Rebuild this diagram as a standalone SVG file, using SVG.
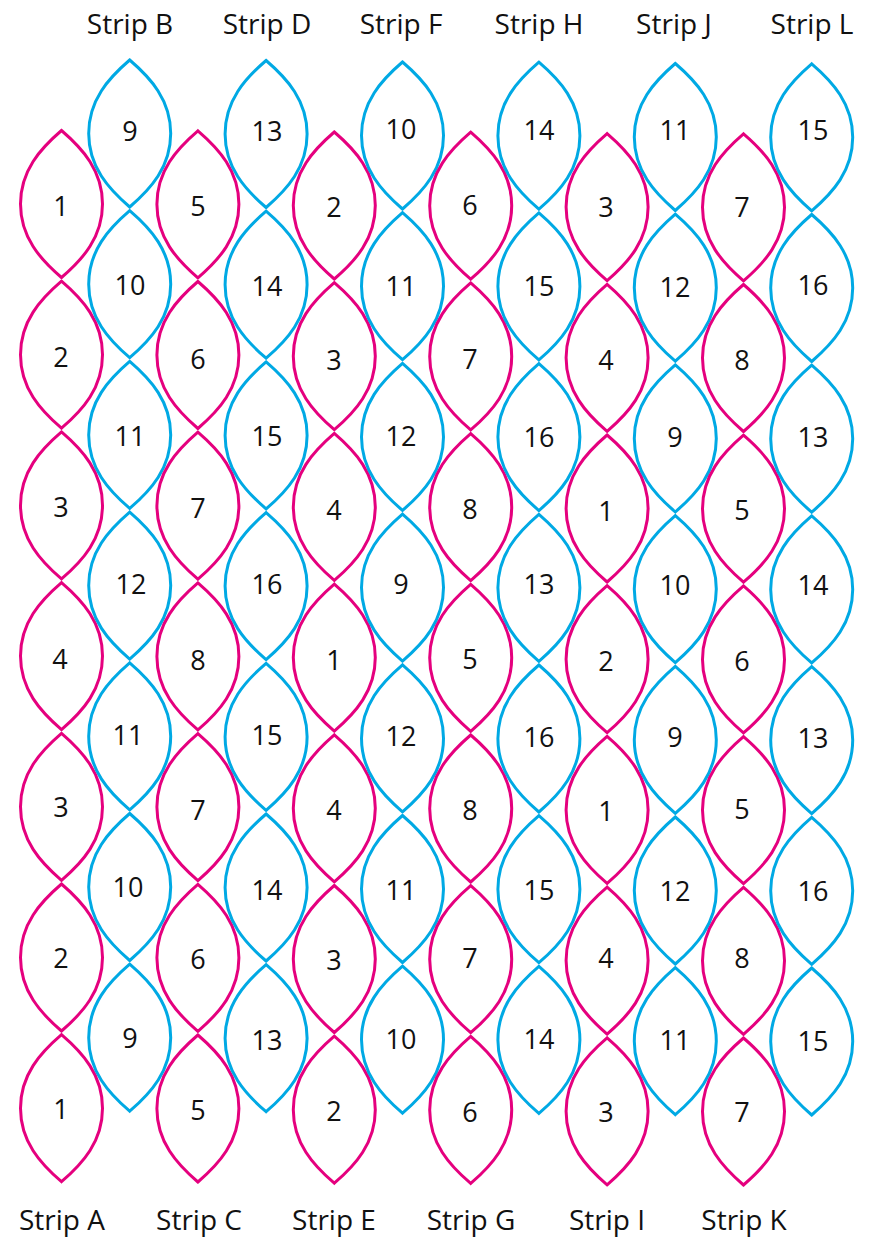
<svg xmlns="http://www.w3.org/2000/svg" xmlns:xlink="http://www.w3.org/1999/xlink" width="872" height="1240" viewBox="0 0 872 1240">
<style>
.pink{fill:none;stroke:#E5007E;stroke-width:3;stroke-linejoin:miter}
.blue{fill:none;stroke:#00A9E4;stroke-width:3;stroke-linejoin:miter}
.num{font-family:"Open Sans","Liberation Sans",sans-serif;font-size:27px;fill:#111;text-anchor:middle}
.lbl{font-family:"Open Sans","Liberation Sans",sans-serif;font-size:28px;fill:#111;text-anchor:middle}
</style>
<defs>
<path id="lens" d="M0,0 C21,18 41,40 41,73.5 C41,107 21,129 0,147 C-21,129 -41,107 -41,73.5 C-41,40 -21,18 0,0Z"/>
</defs>
<rect width="872" height="1240" fill="#fff"/>
<g id="labels">
<text class="lbl" x="130" y="34">Strip B</text>
<text class="lbl" x="267" y="34">Strip D</text>
<text class="lbl" x="401" y="34">Strip F</text>
<text class="lbl" x="539" y="34">Strip H</text>
<text class="lbl" x="674" y="34">Strip J</text>
<text class="lbl" x="812" y="34">Strip L</text>
<text class="lbl" x="62" y="1230">Strip A</text>
<text class="lbl" x="199" y="1230">Strip C</text>
<text class="lbl" x="334" y="1230">Strip E</text>
<text class="lbl" x="471" y="1230">Strip G</text>
<text class="lbl" x="607" y="1230">Strip I</text>
<text class="lbl" x="744" y="1230">Strip K</text>
</g>
<g id="stripA">
<g id="A1"><use href="#lens" x="61.5" y="130.5" class="pink"/><text class="num" x="61" y="216">1</text></g>
<g id="A2"><use href="#lens" x="61.5" y="281.2" class="pink"/><text class="num" x="61" y="367">2</text></g>
<g id="A3"><use href="#lens" x="61.5" y="431.9" class="pink"/><text class="num" x="61" y="517">3</text></g>
<g id="A4"><use href="#lens" x="61.5" y="582.6" class="pink"/><text class="num" x="60" y="669">4</text></g>
<g id="A5"><use href="#lens" x="61.5" y="733.3" class="pink"/><text class="num" x="61" y="817">3</text></g>
<g id="A6"><use href="#lens" x="61.5" y="884" class="pink"/><text class="num" x="61" y="968">2</text></g>
<g id="A7"><use href="#lens" x="61.5" y="1034.7" class="pink"/><text class="num" x="61" y="1119">1</text></g>
</g>
<g id="stripB">
<g id="B1"><use href="#lens" x="129.7" y="60" class="blue"/><text class="num" x="130" y="141">9</text></g>
<g id="B2"><use href="#lens" x="129.7" y="210.7" class="blue"/><text class="num" x="130" y="295">10</text></g>
<g id="B3"><use href="#lens" x="129.7" y="361.4" class="blue"/><text class="num" x="130" y="446">11</text></g>
<g id="B4"><use href="#lens" x="129.7" y="512.1" class="blue"/><text class="num" x="131" y="594">12</text></g>
<g id="B5"><use href="#lens" x="129.7" y="662.8" class="blue"/><text class="num" x="128" y="745">11</text></g>
<g id="B6"><use href="#lens" x="129.7" y="813.5" class="blue"/><text class="num" x="128" y="897">10</text></g>
<g id="B7"><use href="#lens" x="129.7" y="964.2" class="blue"/><text class="num" x="130" y="1048">9</text></g>
</g>
<g id="stripC">
<g id="C1"><use href="#lens" x="197.9" y="130.8" class="pink"/><text class="num" x="198" y="216">5</text></g>
<g id="C2"><use href="#lens" x="197.9" y="281.5" class="pink"/><text class="num" x="198" y="369">6</text></g>
<g id="C3"><use href="#lens" x="197.9" y="432.2" class="pink"/><text class="num" x="198" y="518">7</text></g>
<g id="C4"><use href="#lens" x="197.9" y="582.9" class="pink"/><text class="num" x="198" y="670">8</text></g>
<g id="C5"><use href="#lens" x="197.9" y="733.6" class="pink"/><text class="num" x="198" y="820">7</text></g>
<g id="C6"><use href="#lens" x="197.9" y="884.3" class="pink"/><text class="num" x="198" y="969">6</text></g>
<g id="C7"><use href="#lens" x="197.9" y="1035" class="pink"/><text class="num" x="198" y="1120">5</text></g>
</g>
<g id="stripD">
<g id="D1"><use href="#lens" x="266.1" y="60.5" class="blue"/><text class="num" x="267" y="141">13</text></g>
<g id="D2"><use href="#lens" x="266.1" y="211.2" class="blue"/><text class="num" x="267" y="296">14</text></g>
<g id="D3"><use href="#lens" x="266.1" y="361.9" class="blue"/><text class="num" x="267" y="446">15</text></g>
<g id="D4"><use href="#lens" x="266.1" y="512.6" class="blue"/><text class="num" x="267" y="594">16</text></g>
<g id="D5"><use href="#lens" x="266.1" y="663.3" class="blue"/><text class="num" x="267" y="745">15</text></g>
<g id="D6"><use href="#lens" x="266.1" y="814" class="blue"/><text class="num" x="267" y="900">14</text></g>
<g id="D7"><use href="#lens" x="266.1" y="964.7" class="blue"/><text class="num" x="267" y="1050">13</text></g>
</g>
<g id="stripE">
<g id="E1"><use href="#lens" x="334.3" y="132" class="pink"/><text class="num" x="334" y="217">2</text></g>
<g id="E2"><use href="#lens" x="334.3" y="282.7" class="pink"/><text class="num" x="334" y="370">3</text></g>
<g id="E3"><use href="#lens" x="334.3" y="433.4" class="pink"/><text class="num" x="334" y="520">4</text></g>
<g id="E4"><use href="#lens" x="334.3" y="584.1" class="pink"/><text class="num" x="334" y="670">1</text></g>
<g id="E5"><use href="#lens" x="334.3" y="734.8" class="pink"/><text class="num" x="334" y="820">4</text></g>
<g id="E6"><use href="#lens" x="334.3" y="885.5" class="pink"/><text class="num" x="334" y="970">3</text></g>
<g id="E7"><use href="#lens" x="334.3" y="1036.2" class="pink"/><text class="num" x="334" y="1121">2</text></g>
</g>
<g id="stripF">
<g id="F1"><use href="#lens" x="402.5" y="62" class="blue"/><text class="num" x="401" y="139">10</text></g>
<g id="F2"><use href="#lens" x="402.5" y="212.7" class="blue"/><text class="num" x="401" y="296">11</text></g>
<g id="F3"><use href="#lens" x="402.5" y="363.4" class="blue"/><text class="num" x="401" y="446">12</text></g>
<g id="F4"><use href="#lens" x="402.5" y="514.1" class="blue"/><text class="num" x="401" y="594">9</text></g>
<g id="F5"><use href="#lens" x="402.5" y="664.8" class="blue"/><text class="num" x="401" y="746">12</text></g>
<g id="F6"><use href="#lens" x="402.5" y="815.5" class="blue"/><text class="num" x="401" y="900">11</text></g>
<g id="F7"><use href="#lens" x="402.5" y="966.2" class="blue"/><text class="num" x="401" y="1049">10</text></g>
</g>
<g id="stripG">
<g id="G1"><use href="#lens" x="470.7" y="132.2" class="pink"/><text class="num" x="470" y="215">6</text></g>
<g id="G2"><use href="#lens" x="470.7" y="282.9" class="pink"/><text class="num" x="470" y="369">7</text></g>
<g id="G3"><use href="#lens" x="470.7" y="433.6" class="pink"/><text class="num" x="470" y="519">8</text></g>
<g id="G4"><use href="#lens" x="470.7" y="584.3" class="pink"/><text class="num" x="470" y="669">5</text></g>
<g id="G5"><use href="#lens" x="470.7" y="735" class="pink"/><text class="num" x="470" y="820">8</text></g>
<g id="G6"><use href="#lens" x="470.7" y="885.7" class="pink"/><text class="num" x="470" y="968">7</text></g>
<g id="G7"><use href="#lens" x="470.7" y="1036.4" class="pink"/><text class="num" x="470" y="1122">6</text></g>
</g>
<g id="stripH">
<g id="H1"><use href="#lens" x="538.9" y="62.2" class="blue"/><text class="num" x="539" y="140">14</text></g>
<g id="H2"><use href="#lens" x="538.9" y="212.9" class="blue"/><text class="num" x="539" y="296">15</text></g>
<g id="H3"><use href="#lens" x="538.9" y="363.6" class="blue"/><text class="num" x="539" y="447">16</text></g>
<g id="H4"><use href="#lens" x="538.9" y="514.3" class="blue"/><text class="num" x="539" y="594">13</text></g>
<g id="H5"><use href="#lens" x="538.9" y="665" class="blue"/><text class="num" x="539" y="747">16</text></g>
<g id="H6"><use href="#lens" x="538.9" y="815.7" class="blue"/><text class="num" x="539" y="900">15</text></g>
<g id="H7"><use href="#lens" x="538.9" y="966.4" class="blue"/><text class="num" x="539" y="1049">14</text></g>
</g>
<g id="stripI">
<g id="I1"><use href="#lens" x="607.1" y="133.6" class="pink"/><text class="num" x="606" y="217">3</text></g>
<g id="I2"><use href="#lens" x="607.1" y="284.3" class="pink"/><text class="num" x="606" y="370">4</text></g>
<g id="I3"><use href="#lens" x="607.1" y="435" class="pink"/><text class="num" x="606" y="521">1</text></g>
<g id="I4"><use href="#lens" x="607.1" y="585.7" class="pink"/><text class="num" x="606" y="671">2</text></g>
<g id="I5"><use href="#lens" x="607.1" y="736.4" class="pink"/><text class="num" x="606" y="821">1</text></g>
<g id="I6"><use href="#lens" x="607.1" y="887.1" class="pink"/><text class="num" x="606" y="968">4</text></g>
<g id="I7"><use href="#lens" x="607.1" y="1037.8" class="pink"/><text class="num" x="606" y="1122">3</text></g>
</g>
<g id="stripJ">
<g id="J1"><use href="#lens" x="675.3" y="63.5" class="blue"/><text class="num" x="675" y="140">11</text></g>
<g id="J2"><use href="#lens" x="675.3" y="214.2" class="blue"/><text class="num" x="675" y="297">12</text></g>
<g id="J3"><use href="#lens" x="675.3" y="364.9" class="blue"/><text class="num" x="675" y="447">9</text></g>
<g id="J4"><use href="#lens" x="675.3" y="515.6" class="blue"/><text class="num" x="675" y="595">10</text></g>
<g id="J5"><use href="#lens" x="675.3" y="666.3" class="blue"/><text class="num" x="675" y="747">9</text></g>
<g id="J6"><use href="#lens" x="675.3" y="817" class="blue"/><text class="num" x="675" y="901">12</text></g>
<g id="J7"><use href="#lens" x="675.3" y="967.7" class="blue"/><text class="num" x="675" y="1050">11</text></g>
</g>
<g id="stripK">
<g id="K1"><use href="#lens" x="743.5" y="133.8" class="pink"/><text class="num" x="742" y="217">7</text></g>
<g id="K2"><use href="#lens" x="743.5" y="284.5" class="pink"/><text class="num" x="742" y="370">8</text></g>
<g id="K3"><use href="#lens" x="743.5" y="435.2" class="pink"/><text class="num" x="742" y="520">5</text></g>
<g id="K4"><use href="#lens" x="743.5" y="585.9" class="pink"/><text class="num" x="742" y="671">6</text></g>
<g id="K5"><use href="#lens" x="743.5" y="736.6" class="pink"/><text class="num" x="742" y="819">5</text></g>
<g id="K6"><use href="#lens" x="743.5" y="887.3" class="pink"/><text class="num" x="742" y="968">8</text></g>
<g id="K7"><use href="#lens" x="743.5" y="1038" class="pink"/><text class="num" x="742" y="1122">7</text></g>
</g>
<g id="stripL">
<g id="L1"><use href="#lens" x="811.7" y="63.8" class="blue"/><text class="num" x="813" y="140">15</text></g>
<g id="L2"><use href="#lens" x="811.7" y="214.5" class="blue"/><text class="num" x="813" y="295">16</text></g>
<g id="L3"><use href="#lens" x="811.7" y="365.2" class="blue"/><text class="num" x="813" y="447">13</text></g>
<g id="L4"><use href="#lens" x="811.7" y="515.9" class="blue"/><text class="num" x="813" y="595">14</text></g>
<g id="L5"><use href="#lens" x="811.7" y="666.6" class="blue"/><text class="num" x="813" y="748">13</text></g>
<g id="L6"><use href="#lens" x="811.7" y="817.3" class="blue"/><text class="num" x="813" y="901">16</text></g>
<g id="L7"><use href="#lens" x="811.7" y="968" class="blue"/><text class="num" x="813" y="1051">15</text></g>
</g>
<g id="connectors"></g>
</svg>
